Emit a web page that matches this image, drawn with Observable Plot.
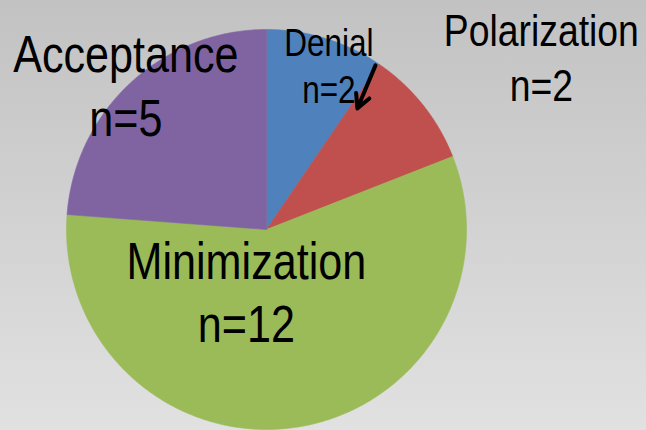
<!DOCTYPE html>
<html>
<head>
<meta charset="utf-8">
<script src="https://cdn.jsdelivr.net/npm/d3@7"></script>
<script src="https://cdn.jsdelivr.net/npm/@observablehq/plot@0.6"></script>
<style>
  html, body { margin: 0; padding: 0; background: #d0d0d0; }
  #chart svg { display: block; }
</style>
</head>
<body>
<div id="chart"></div>
<script>
// ---- Data ----
const categories = ["Denial", "Polarization", "Minimization", "Acceptance"];
const counts = [2, 2, 12, 5];
const labels = ["Denial\nn=2", "Polarization\nn=2", "Minimization\nn=12", "Acceptance\nn=5"];
const colors = ["#4f81bd", "#c0504d", "#9bbb59", "#8064a2"];

// ---- Layout (pixels) ----
const W = 646, H = 430;
const CX = 266, CY = 229, R = 200;           // pie centre & radius
const labelStyle = {                          // offsets from slice centroid (at 0.6R)
  Denial:       {dx: 27,  dy: -12, size: 38},
  Polarization: {dx: 181, dy: -54, size: 45},
  Minimization: {dx: -38, dy: -6,  size: 52},
  Acceptance:   {dx: -59, dy: -6,  size: 52}
};
const narrow = 0.83;                          // horizontal condensation of label font
// arrow annotation relative to the start of the Polarization slice (deg, fraction of R)
const arrowSpec = {slice: "Polarization", tail: {da: -0.7, r: 0.985}, head: {da: 2.6, r: 0.757}};

// ---- Geometry from data ----
const arcs = d3.pie().sort(null).value(d => d)(counts);
const slices = arcs.map((a, i) => ({cat: categories[i], label: labels[i], start: a.startAngle, end: a.endAngle}));

const polyPts = [];
for (const s of slices) {
  polyPts.push({cat: s.cat, x: 0, y: 0});
  const n = Math.max(2, Math.ceil((s.end - s.start) / 0.01));
  for (let k = 0; k <= n; k++) {
    const t = s.start + (s.end - s.start) * k / n;
    polyPts.push({cat: s.cat, x: Math.sin(t), y: Math.cos(t)});
  }
  polyPts.push({cat: s.cat, x: 0, y: 0});
}

const labelData = slices.map(s => {
  const m = (s.start + s.end) / 2;
  return {cat: s.cat, label: s.label, x: 0.6 * Math.sin(m), y: 0.6 * Math.cos(m)};
});

const aSlice = slices.find(s => s.cat === arrowSpec.slice);
const rad = d => d * Math.PI / 180;
const ta = aSlice.start + rad(arrowSpec.tail.da), ha = aSlice.start + rad(arrowSpec.head.da);
const arrowData = [{
  x1: arrowSpec.tail.r * Math.sin(ta), y1: arrowSpec.tail.r * Math.cos(ta),
  x2: arrowSpec.head.r * Math.sin(ha), y2: arrowSpec.head.r * Math.cos(ha)
}];

const font = "'Liberation Sans', Arial, sans-serif";

const plot = Plot.plot({
  width: W, height: H,
  margin: 0,
  x: {domain: [-CX / R, (W - CX) / R], axis: null},
  y: {domain: [-(H - CY) / R, CY / R], axis: null},
  color: {domain: categories, range: colors},
  style: {background: "linear-gradient(to bottom, #c2c2c2, #e1e1e1)", overflow: "visible"},
  marks: [
    Plot.line(polyPts, {x: "x", y: "y", z: "cat", fill: "cat", stroke: "cat", strokeWidth: 0.6, curve: "linear"}),
    ...labelData.map(d => Plot.text([d], {
      x: "x", y: "y", text: "label",
      dx: labelStyle[d.cat].dx, dy: labelStyle[d.cat].dy,
      fontSize: labelStyle[d.cat].size, fontFamily: font,
      lineAnchor: "bottom", lineHeight: 1.22, textAnchor: "middle", fill: "black"
    })),
    Plot.arrow(arrowData, {x1: "x1", y1: "y1", x2: "x2", y2: "y2", stroke: "black", strokeWidth: 4, headLength: 18, headAngle: 55, strokeLinecap: "round", strokeLinejoin: "round"})
  ]
});
document.getElementById("chart").appendChild(plot);

// condense label glyphs horizontally around each label's centre
d3.select(plot).selectAll('g[aria-label="text"] text').each(function () {
  const bb = this.getBBox();
  const cx = bb.x + bb.width / 2;
  const t = this.getAttribute("transform") || "";
  this.setAttribute("transform", `${t} translate(${cx},0) scale(${narrow},1) translate(${-cx},0)`);
});
</script>
</body>
</html>
